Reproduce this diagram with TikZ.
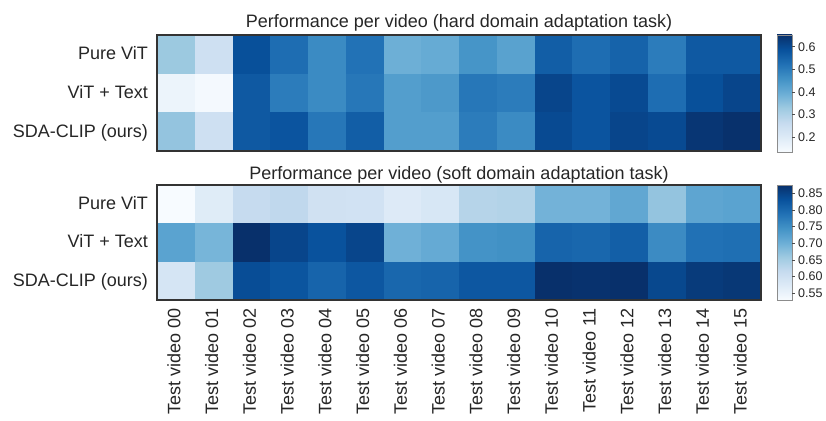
\documentclass[tikz,border=0pt]{standalone}
\usepackage{fontspec}
\setmainfont{Liberation Sans}
% Blues colour map
\definecolor{B0}{RGB}{247,251,255}
\definecolor{B1}{RGB}{222,235,247}
\definecolor{B2}{RGB}{198,219,239}
\definecolor{B3}{RGB}{158,202,225}
\definecolor{B4}{RGB}{107,174,214}
\definecolor{B5}{RGB}{66,146,198}
\definecolor{B6}{RGB}{33,113,181}
\definecolor{B7}{RGB}{8,81,156}
\definecolor{B8}{RGB}{8,48,107}
\pgfdeclareverticalshading{bluesbar}{100bp}{color(0bp)=(B0); color(25bp)=(B0);
  color(31.25bp)=(B1); color(37.5bp)=(B2); color(43.75bp)=(B3); color(50bp)=(B4);
  color(56.25bp)=(B5); color(62.5bp)=(B6); color(68.75bp)=(B7); color(75bp)=(B8);
  color(100bp)=(B8)}
\begin{document}
\begin{tikzpicture}[x=1pt,y=-1pt,font=\fontsize{18}{21}\selectfont,
	every node/.style={text=black!85,inner sep=0pt},
	rowlab/.style={anchor=base east},
	vidlab/.style={anchor=east,rotate=90},
	ticklab/.style={anchor=west,font=\fontsize{12.5}{14}\selectfont},
	frame/.style={draw=black!80,line width=1.1pt},
	barframe/.style={draw=black!45,line width=0.8pt}]
	\useasboundingbox (0,0) rectangle (826,420);
	\def\xl{157} \def\xr{761} \def\cw{37.75}
	\def\bl{777} \def\br{792}
	% hard domain adaptation
	\def\ytop{35} \def\ybot{151} \def\rh{38.67}
	\def\vmin{0.132} \def\vmax{0.652}
	\foreach \r/\vals in {0/{.33,.24,.59,.53,.47,.52,.39,.40,.45,.42,.56,.53,.55,.50,.57,.57},
		1/{.16,.14,.57,.50,.47,.51,.43,.44,.51,.50,.61,.58,.60,.53,.59,.61},
		2/{.34,.24,.57,.58,.51,.56,.43,.43,.50,.47,.60,.58,.61,.60,.64,.65}}
	\foreach \v [count=\c from 0] in \vals {
		\pgfmathsetmacro\cellt{max(0,min(7.999,(\v-\vmin)/(\vmax-\vmin)*8))}
		\pgfmathtruncatemacro\k{\cellt}
		\pgfmathtruncatemacro\kk{\k+1}
		\pgfmathsetmacro\f{(\cellt-\k)*100}
		\colorlet{cellcol}{B\kk!\f!B\k}
		\fill[cellcol] ({\xl+\c*\cw},{\ytop+\r*\rh}) rectangle +(\cw+0.4,\rh+0.4);
	}
	\path[frame] (\xl,\ytop) rectangle (\xr,\ybot);
	\shade[shading=bluesbar] (\bl,\ytop) rectangle (\br,\ybot+1);
	\path[barframe] (\bl,\ytop) rectangle (\br,\ybot+1);
	\foreach \v [count=\i] in {0.2,0.3,0.4,0.5,0.6} {
		\pgfmathsetmacro\ty{46.7+(0.6-\v)*225}
		\draw[black!70] (\br,\ty) -- (\br+3,\ty) node[ticklab,xshift=3pt] (ht\i) {\v};
	}
	\node[anchor=base] (htitle) at ({(\xl+\xr)/2},28) {Performance per video (hard domain adaptation task)};
	\foreach \name [count=\i from 0] in {Pure ViT,ViT + Text,SDA-CLIP (ours)}
	\node[rowlab] (hrow\i) at (148,{\ytop+(\i+0.5)*\rh+5.5}) {\name};
	% soft domain adaptation
	\def\ytop{185} \def\ybot{300} \def\rh{38.33}
	\def\vmin{0.53} \def\vmax{0.875}
	\foreach \r/\vals in {0/{.530,.571,.616,.623,.599,.596,.575,.585,.634,.637,.696,.696,.713,.668,.716,.720},
		1/{.720,.692,.875,.847,.830,.847,.699,.709,.744,.747,.806,.803,.813,.754,.789,.792},
		2/{.589,.658,.837,.827,.806,.823,.803,.806,.823,.823,.875,.872,.875,.844,.861,.865}}
	\foreach \v [count=\c from 0] in \vals {
		\pgfmathsetmacro\cellt{max(0,min(7.999,(\v-\vmin)/(\vmax-\vmin)*8))}
		\pgfmathtruncatemacro\k{\cellt}
		\pgfmathtruncatemacro\kk{\k+1}
		\pgfmathsetmacro\f{(\cellt-\k)*100}
		\colorlet{cellcol}{B\kk!\f!B\k}
		\fill[cellcol] ({\xl+\c*\cw},{\ytop+\r*\rh}) rectangle +(\cw+0.4,\rh+0.4);
	}
	\path[frame] (\xl,\ytop) rectangle (\xr,\ybot);
	\shade[shading=bluesbar] (\bl,\ytop) rectangle (\br,\ybot);
	\path[barframe] (\bl,\ytop) rectangle (\br,\ybot);
	\foreach \v [count=\i] in {0.55,0.60,0.65,0.70,0.75,0.80,0.85} {
		\pgfmathsetmacro\ty{193.3+(0.85-\v)*333.3}
		\draw[black!70] (\br,\ty) -- (\br+3,\ty) node[ticklab,xshift=3pt] (st\i) {\v};
	}
	\node[anchor=base] (stitle) at ({(\xl+\xr)/2},179) {Performance per video (soft domain adaptation task)};
	\foreach \name [count=\i from 0] in {Pure ViT,ViT + Text,SDA-CLIP (ours)}
	\node[rowlab] (srow\i) at (148,{\ytop+(\i+0.5)*\rh+5.5}) {\name};
	% video labels
	\foreach \n [count=\c from 0] in {00,01,02,03,04,05,06,07,08,09,10,11,12,13,14,15}
	\node[vidlab] (vid\n) at ({\xl+(\c+0.5)*\cw-2},308) {Test video \n};
\end{tikzpicture}
\end{document}
